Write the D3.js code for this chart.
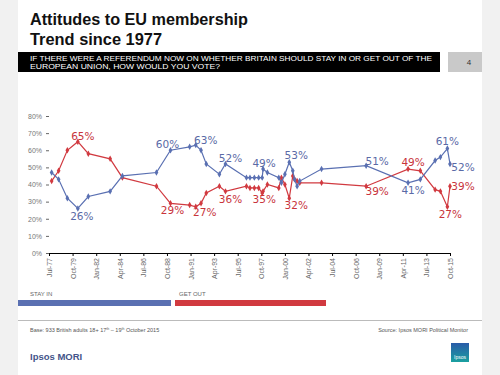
<!DOCTYPE html>
<html>
<head>
<meta charset="utf-8">
<script src="https://cdn.jsdelivr.net/npm/d3@7"></script>
<style>
body { margin: 0; background: #f1f1f1; }
svg { display: block; font-family: "Liberation Sans", Arial, sans-serif; }
</style>
</head>
<body>
<div id="chart"></div>
<script>
// poll dates (year-month) and shares
var pollDates = ["1977-10","1978-06","1979-04","1980-04","1981-04","1983-05","1984-07","1987-10",
    "1989-02","1990-12","1991-07","1992-01","1992-07","1993-10","1994-05","1996-05","1996-09",
    "1997-02","1997-07","1997-11","1997-12","1998-05","1999-06","1999-09","2000-01","2000-06",
    "2000-10","2000-12","2001-03","2001-06","2003-07","2007-10","2011-10","2012-12","2014-05",
    "2014-11","2015-07","2015-10"]
var stayIn = [47,43,32,26,33,36,45,47,60,62,63,60,52,46,52,44,44,44,44,44,49,47,44,41,46,53,
    48,43,39,42,49,51,41,43,54,56,61,52]
var getOut = [42,48,60,65,58,55,44,39,29,28,27,29,35,39,36,39,38,38,38,35,36,40,38,44,40,32,
    45,43,42,41,41,39,49,48,37,36,27,39]
var stayLabelIdx = [3,8,10,14,20,25,31,32,36,37]
var outLabelIdx = [3,8,10,14,19,25,31,32,36,37]
var xTickLabels = ["Jul-77","Oct-79","Jan-82","Apr-84","Jul-86","Oct-88","Jan-91","Apr-93","Jul-95",
    "Oct-97","Jan-00","Apr-02","Jul-04","Oct-06","Jan-09","Apr-11","Jul-13","Oct-15"]
var yTicks = [0,10,20,30,40,50,60,70,80]

// label offsets (px) from the point, same order as the index lists
var stayOffsets = [[4,9],[-3,-5],[10,-4],[5,-5],[1,-5],[7,-6],[11,-4],[5,8],[0,-7],[13,4]]
var outOffsets = [[5,-5],[2,8],[9,6],[5,9],[2,7],[7,8],[11,6],[5,-6],[3,8],[13,1]]

var blue = "#5a70b2", red = "#d13a40"
var blueText = "#5a6aa6", redText = "#c8343b"

var parseMonth = d3.timeParse("%Y-%m")
var parseTick = d3.timeParse("%b-%y")
var fmtTick = d3.timeFormat("%b-%y")

var stayData = pollDates.map(function(d, i){ return {date: parseMonth(d), v: stayIn[i]} })
var outData = pollDates.map(function(d, i){ return {date: parseMonth(d), v: getOut[i]} })
var tickDates = xTickLabels.map(parseTick)

var svg = d3.select("#chart").append("svg")
    .attr("width", 500)
    .attr("height", 375)

svg.append("rect").attr("width", 500).attr("height", 375).attr("fill", "#f1f1f1")
svg.append("rect").attr("x", 18).attr("width", 464).attr("height", 375).attr("fill", "#fff")

// header
svg.append("text").attr("x", 30).attr("y", 25)
    .attr("font-size", 16).attr("font-weight", "bold").attr("fill", "#111")
    .attr("textLength", 218).attr("lengthAdjust", "spacingAndGlyphs")
    .text("Attitudes to EU membership")
svg.append("text").attr("x", 30).attr("y", 45)
    .attr("font-size", 16).attr("font-weight", "bold").attr("fill", "#111")
    .attr("textLength", 132).attr("lengthAdjust", "spacingAndGlyphs")
    .text("Trend since 1977")

svg.append("rect").attr("x", 18).attr("y", 52).attr("width", 422).attr("height", 20).attr("fill", "#000")
svg.append("text").attr("x", 30).attr("y", 61)
    .attr("font-size", 7).attr("fill", "#fff")
    .attr("textLength", 402).attr("lengthAdjust", "spacingAndGlyphs")
    .text("IF THERE WERE A REFERENDUM NOW ON WHETHER BRITAIN SHOULD STAY IN OR GET OUT OF THE")
svg.append("text").attr("x", 30).attr("y", 69)
    .attr("font-size", 7).attr("fill", "#fff")
    .attr("textLength", 190).attr("lengthAdjust", "spacingAndGlyphs")
    .text("EUROPEAN UNION, HOW WOULD YOU VOTE?")
svg.append("rect").attr("x", 448).attr("y", 52).attr("width", 34).attr("height", 20).attr("fill", "#c9c9c9")
svg.append("text").attr("x", 469).attr("y", 65).attr("text-anchor", "middle")
    .attr("font-size", 8).attr("fill", "#333").text("4")

// scales
var x = d3.scaleTime().domain([tickDates[0], tickDates[tickDates.length - 1]]).range([49, 450])
var y = d3.scaleLinear().domain([0, 80]).range([253, 116])

var yAxis = svg.append("g").attr("transform", "translate(49,0)")
    .call(d3.axisLeft(y).tickValues(yTicks).tickSize(3).tickPadding(4).tickFormat(function(d){ return d + "%" }))
yAxis.select(".domain").remove()
yAxis.selectAll("line").attr("stroke", "#666")
yAxis.selectAll("text").attr("font-size", 7).attr("fill", "#777").attr("font-family", "Liberation Sans, sans-serif")

var xAxis = svg.append("g").attr("transform", "translate(0,253)")
    .call(d3.axisBottom(x).tickValues(tickDates).tickSize(3).tickSizeOuter(0).tickFormat(fmtTick))
xAxis.select(".domain").attr("stroke", "#000").attr("stroke-width", 1.2)
xAxis.selectAll("line").attr("stroke", "#000")
xAxis.selectAll("text")
    .attr("font-size", 7).attr("fill", "#666").attr("font-family", "Liberation Sans, sans-serif")
    .attr("transform", "rotate(-90)")
    .attr("x", -5).attr("y", 0).attr("dy", "0.35em")
    .style("text-anchor", "end")

// lines
var line = d3.line().x(function(d){ return x(d.date) }).y(function(d){ return y(d.v) })
var diamond = d3.symbol().type(d3.symbolDiamond).size(12)

function drawSeries(data, color){
    svg.append("path").datum(data)
        .attr("fill", "none").attr("stroke", color).attr("stroke-width", 1.2)
        .attr("d", line)
    svg.append("g").selectAll("path").data(data).enter().append("path")
        .attr("transform", function(d){ return "translate(" + x(d.date) + "," + y(d.v) + ")" })
        .attr("d", diamond).attr("fill", color)
}
drawSeries(outData, red)
drawSeries(stayData, blue)

function drawLabels(data, idx, offs, color){
    svg.append("g").selectAll("text").data(idx).enter().append("text")
        .attr("x", function(d, i){ return x(data[d].date) + offs[i][0] })
        .attr("y", function(d, i){ return y(data[d].v) + offs[i][1] })
        .attr("text-anchor", "middle").attr("dominant-baseline", "middle")
        .attr("font-family", "DejaVu Sans, sans-serif").attr("font-size", 10.5)
        .attr("fill", color)
        .text(function(d){ return data[d].v + "%" })
}
drawLabels(stayData, stayLabelIdx, stayOffsets, blueText)
drawLabels(outData, outLabelIdx, outOffsets, redText)

// legend bars
svg.append("text").attr("x", 30).attr("y", 296).attr("font-size", 6).attr("fill", "#666").text("STAY IN")
svg.append("rect").attr("x", 18).attr("y", 300).attr("width", 153).attr("height", 6).attr("fill", blue)
svg.append("text").attr("x", 179).attr("y", 296).attr("font-size", 6).attr("fill", "#666").text("GET OUT")
svg.append("rect").attr("x", 175).attr("y", 300).attr("width", 151).attr("height", 6).attr("fill", red)

// footer
svg.append("line").attr("x1", 18).attr("x2", 482).attr("y1", 320.5).attr("y2", 320.5)
    .attr("stroke", "#bbb").attr("stroke-width", 1)
var base = svg.append("text").attr("x", 30).attr("y", 332).attr("font-size", 5.5).attr("fill", "#555")
base.append("tspan").text("Base: 933 British adults 18+ 17")
base.append("tspan").attr("font-size", 3.5).attr("dy", -2).text("th")
base.append("tspan").attr("dy", 2).text(" \u2013 19")
base.append("tspan").attr("font-size", 3.5).attr("dy", -2).text("th")
base.append("tspan").attr("dy", 2).text(" October 2015")
svg.append("text").attr("x", 468).attr("y", 332).attr("text-anchor", "end")
    .attr("font-size", 5.5).attr("fill", "#555").text("Source: Ipsos MORI Political Monitor")

svg.append("text").attr("x", 30).attr("y", 360).attr("font-size", 9.5).attr("font-weight", "bold")
    .attr("fill", "#44548a").text("Ipsos MORI")

var grad = svg.append("defs").append("linearGradient").attr("id", "logo")
    .attr("x1", 0).attr("y1", 0).attr("x2", 0).attr("y2", 1)
grad.append("stop").attr("offset", "0%").attr("stop-color", "#2a5ba8")
grad.append("stop").attr("offset", "100%").attr("stop-color", "#1aa0a0")
svg.append("rect").attr("x", 451).attr("y", 343).attr("width", 18).attr("height", 19).attr("fill", "url(#logo)")
svg.append("text").attr("x", 460).attr("y", 359).attr("text-anchor", "middle")
    .attr("font-size", 5).attr("fill", "#fff").text("Ipsos")
</script>
</body>
</html>
